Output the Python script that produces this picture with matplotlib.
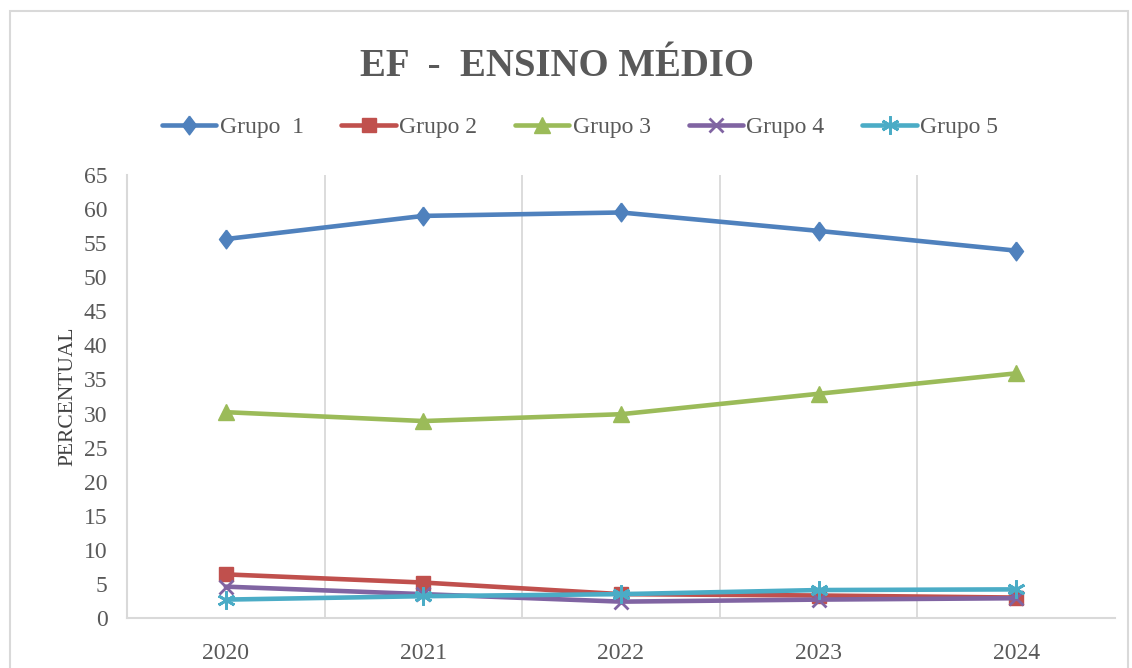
import matplotlib
matplotlib.use("Agg")
import matplotlib.pyplot as plt
from matplotlib.patches import Rectangle

years = ["2020", "2021", "2022", "2023", "2024"]
grupo1 = [55.6, 59.0, 59.5, 56.8, 53.9]
grupo2 = [6.4, 5.2, 3.5, 3.3, 3.0]
grupo3 = [30.2, 28.9, 29.9, 32.9, 35.9]
grupo4 = [4.6, 3.5, 2.4, 2.7, 2.9]
grupo5 = [2.7, 3.2, 3.5, 4.1, 4.2]
series_names = ["Grupo  1", "Grupo 2", "Grupo 3", "Grupo 4", "Grupo 5"]
yticks = list(range(0, 70, 5))

plt.rcParams['font.family'] = ['Liberation Serif', 'DejaVu Serif']

fig = plt.figure(figsize=(11.32, 6.68), dpi=100)
W, H = 1132, 668
ax = fig.add_axes([127 / W, 1 - 618 / H, (1115 - 127) / W, (618 - 175) / H])

diamond = [(0, 1), (0.75, 0), (0, -1), (-0.75, 0), (0, 1)]
colors = ["#4F81BD", "#C0504D", "#9BBB59", "#8064A2", "#4BACC6"]
markers = [diamond, "s", "^", "x", (6, 2, 0)]
msizes = [13.5, 10, 12, 10, 13]
data = [grupo1, grupo2, grupo3, grupo4, grupo5]
x = list(range(len(years)))

handles = []
for vals, c, m, ms, name in zip(data, colors, markers, msizes, series_names):
    thin = isinstance(m, (str, tuple)) and m in ("x", (6, 2, 0))
    h, = ax.plot(x, vals, color=c, lw=3.3, marker=m, markersize=ms,
                 markeredgewidth=2 if thin else 1,
                 markeredgecolor=c, markerfacecolor=c, label=name,
                 solid_capstyle="round", solid_joinstyle="round", clip_on=False)
    handles.append(h)

ax.set_xlim(-0.5, 4.5)
ax.set_ylim(0, 65)
ax.set_yticks(yticks)
ax.set_yticklabels([str(t) for t in yticks])
ax.set_xticks(x)
ax.set_xticklabels(years)
ax.tick_params(axis="both", length=0, labelsize=17, colors="#595959")
ax.tick_params(axis="x", pad=18)
ax.tick_params(axis="y", pad=14)

for b in [0.5, 1.5, 2.5, 3.5]:
    ax.axvline(b, color="#D9D9D9", lw=1.3, zorder=0)

for s in ["top", "right"]:
    ax.spines[s].set_visible(False)
for s in ["left", "bottom"]:
    ax.spines[s].set_color("#D9D9D9")
    ax.spines[s].set_linewidth(1.5)

ax.set_ylabel("PERCENTUAL", fontsize=15.5, color="#404040", labelpad=5)

fig.text(557 / W, 1 - 67 / H, "EF  -  ENSINO MÉDIO", ha="center", va="center",
         fontsize=28, fontweight="bold", color="#595959")

fig.legend(handles=handles, loc="center", bbox_to_anchor=(580 / W, 1 - 127 / H),
           ncol=5, frameon=False, fontsize=17, handlelength=2.3,
           handletextpad=0.15, columnspacing=1.6, labelcolor="#595959")

fig.patches.append(Rectangle((10 / W, -0.05), 1118 / W, 1.05 - 11 / H,
                             transform=fig.transFigure, fill=False,
                             edgecolor="#D9D9D9", lw=1.5))

fig.savefig("out.png", dpi=100)
